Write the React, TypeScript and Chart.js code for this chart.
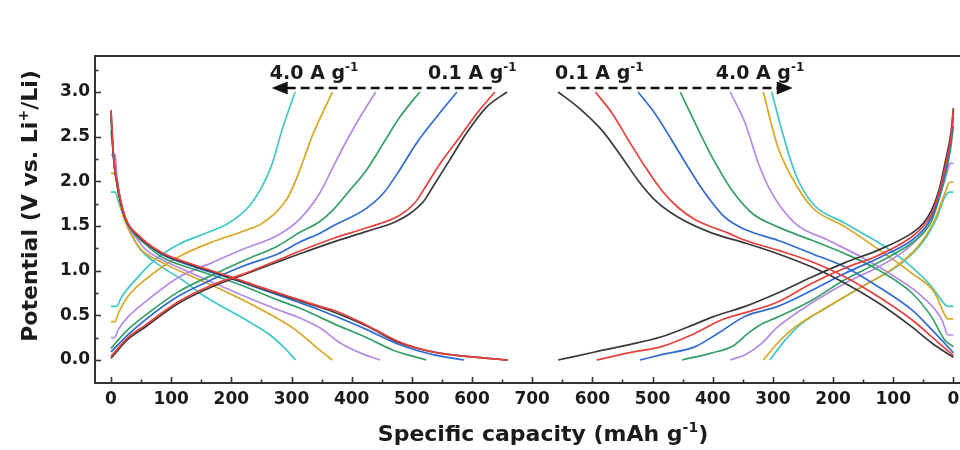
import React, { useEffect, useRef } from 'react';
import { Chart, registerables } from 'chart.js';

Chart.register(...registerables);

// ---------- tick values / labels ----------
const X_TICKS = [0, 100, 200, 300, 400, 500, 600, 700, 800, 900, 1000, 1100, 1200, 1300, 1400];
const X_TICK_LABELS = ['0', '100', '200', '300', '400', '500', '600', '700', '600', '500', '400', '300', '200', '100', '0'];
const Y_TICKS = [0, 0.5, 1.0, 1.5, 2.0, 2.5, 3.0];
const MIRROR = 1400; // right panel capacity axis runs back from 700 to 0

// ---------- left panel: discharge curves [capacity mAh/g, potential V] ----------
const L_DIS_BLACK = [[0,2.78],[2,2.52],[4,2.28],[7,2.08],[10,1.97],[14,1.83],[20,1.66],[28,1.52],[45,1.39],[60,1.30],[85,1.19],[140,1.05],[195,0.93],[251,0.80],[306,0.68],[347,0.59],[369,0.54],[425,0.38],[480,0.19],[535,0.09],[591,0.04],[660,0.0]];
const L_DIS_RED = [[0,2.80],[2,2.55],[4,2.30],[7,2.10],[10,1.99],[14,1.85],[20,1.68],[28,1.53],[45,1.40],[60,1.31],[85,1.20],[140,1.06],[195,0.94],[251,0.81],[306,0.69],[347,0.60],[369,0.56],[425,0.39],[480,0.20],[535,0.09],[591,0.04],[658,0.0]];
const L_DIS_BLUE = [[0,2.71],[3,2.40],[6,2.15],[10,2.0],[18,1.72],[28,1.53],[45,1.39],[60,1.30],[85,1.18],[140,1.04],[195,0.92],[251,0.79],[306,0.66],[347,0.56],[369,0.50],[425,0.34],[480,0.17],[535,0.06],[587,0.0]];
const L_DIS_GREEN = [[0,2.57],[4,2.30],[10,1.98],[18,1.70],[28,1.52],[45,1.37],[60,1.28],[85,1.15],[140,1.01],[195,0.89],[223,0.82],[278,0.67],[314,0.58],[347,0.48],[369,0.41],[425,0.25],[469,0.11],[524,0.0]];
const L_DIS_PURPLE = [[0,2.30],[7,2.30],[10,2.05],[18,1.72],[28,1.51],[45,1.34],[57,1.24],[85,1.12],[111,1.04],[168,0.87],[223,0.71],[278,0.56],[314,0.47],[347,0.36],[381,0.19],[414,0.08],[447,0.0]];
const L_DIS_YELLOW = [[0,2.09],[7,2.09],[11,1.90],[18,1.66],[28,1.48],[40,1.33],[51,1.23],[85,1.09],[140,0.92],[195,0.75],[251,0.56],[306,0.34],[347,0.11],[368,0.0]];
const L_DIS_CYAN = [[0,1.88],[7,1.88],[12,1.78],[20,1.63],[27,1.52],[45,1.27],[85,1.04],[118,0.90],[156,0.71],[195,0.56],[234,0.41],[268,0.26],[289,0.13],[307,0.0]];

// ---------- left panel: charge curves ----------
const L_CHG_BLACK = [[0,0.02],[28,0.23],[57,0.37],[111,0.63],[168,0.82],[223,0.96],[278,1.10],[314,1.19],[369,1.32],[425,1.44],[470,1.54],[497,1.64],[520,1.78],[535,1.94],[563,2.24],[591,2.54],[624,2.83],[658,3.0]];
const L_CHG_RED = [[0,0.04],[28,0.25],[57,0.39],[111,0.65],[168,0.84],[223,0.97],[278,1.12],[314,1.22],[369,1.36],[425,1.48],[480,1.62],[505,1.76],[519,1.90],[547,2.20],[580,2.50],[608,2.76],[638,3.0]];
const L_CHG_BLUE = [[0,0.09],[28,0.28],[57,0.45],[111,0.71],[168,0.90],[223,1.06],[278,1.19],[314,1.32],[347,1.42],[369,1.50],[425,1.70],[453,1.87],[480,2.13],[508,2.43],[541,2.72],[575,3.0]];
const L_CHG_GREEN = [[0,0.13],[10,0.21],[28,0.34],[57,0.50],[111,0.76],[168,0.95],[223,1.12],[278,1.28],[314,1.43],[347,1.55],[369,1.68],[397,1.90],[425,2.13],[453,2.43],[480,2.72],[513,3.0]];
const L_CHG_PURPLE = [[0,0.25],[6,0.25],[12,0.34],[28,0.48],[57,0.65],[111,0.92],[168,1.09],[223,1.25],[278,1.40],[314,1.58],[347,1.87],[369,2.16],[392,2.46],[414,2.72],[440,3.0]];
const L_CHG_YELLOW = [[0,0.43],[7,0.43],[12,0.52],[28,0.71],[57,0.90],[111,1.15],[168,1.32],[223,1.45],[251,1.53],[294,1.82],[314,2.13],[334,2.50],[347,2.70],[368,3.0]];
const L_CHG_CYAN = [[0,0.60],[9,0.60],[18,0.71],[45,0.93],[73,1.12],[111,1.29],[150,1.40],[195,1.53],[228,1.71],[251,1.94],[268,2.20],[284,2.57],[306,3.0]];

// ---------- right panel: discharge curves (capacity counted from right edge) ----------
const R_DIS_BLACK = [[0,2.82],[4,2.55],[14,2.20],[24,1.90],[36,1.68],[50,1.53],[69,1.42],[125,1.23],[180,1.09],[235,0.93],[292,0.75],[346,0.60],[401,0.48],[441,0.37],[485,0.26],[540,0.17],[596,0.09],[657,0.0]];
const R_DIS_RED = [[0,2.80],[4,2.50],[14,2.15],[24,1.86],[36,1.64],[50,1.50],[69,1.38],[125,1.17],[180,1.03],[235,0.86],[292,0.65],[346,0.53],[385,0.45],[429,0.30],[485,0.15],[540,0.08],[593,0.0]];
const R_DIS_BLUE = [[0,2.72],[4,2.45],[14,2.10],[24,1.83],[36,1.60],[50,1.46],[69,1.34],[125,1.14],[180,0.97],[235,0.78],[292,0.60],[346,0.49],[391,0.30],[429,0.15],[485,0.06],[521,0.0]];
const R_DIS_GREEN = [[0,2.62],[4,2.40],[14,2.05],[24,1.80],[36,1.56],[50,1.42],[69,1.31],[125,1.09],[180,0.90],[235,0.67],[292,0.48],[322,0.39],[341,0.30],[368,0.15],[401,0.08],[451,0.0]];
const R_DIS_PURPLE = [[0,2.20],[6,2.20],[9,2.13],[25,1.79],[52,1.42],[80,1.23],[125,1.04],[180,0.86],[235,0.64],[292,0.37],[318,0.19],[346,0.06],[371,0.0]];
const R_DIS_YELLOW = [[0,1.99],[6,1.99],[14,1.87],[31,1.57],[59,1.27],[97,1.04],[152,0.82],[208,0.60],[263,0.37],[292,0.19],[316,0.0]];
const R_DIS_CYAN = [[0,1.88],[6,1.88],[14,1.83],[27,1.60],[52,1.31],[91,1.06],[147,0.84],[202,0.62],[252,0.41],[280,0.22],[305,0.0]];

// ---------- right panel: charge curves ----------
const R_CHG_BLACK = [[0,0.03],[36,0.19],[69,0.37],[125,0.64],[180,0.86],[235,1.04],[292,1.19],[346,1.31],[401,1.42],[458,1.60],[496,1.79],[524,2.01],[551,2.27],[584,2.57],[624,2.83],[657,3.0]];
const R_CHG_RED = [[0,0.05],[36,0.26],[69,0.45],[125,0.71],[180,0.93],[235,1.10],[292,1.23],[346,1.34],[374,1.42],[429,1.57],[458,1.71],[485,1.90],[512,2.16],[540,2.46],[567,2.76],[595,3.0]];
const R_CHG_BLUE = [[0,0.08],[36,0.34],[69,0.56],[125,0.82],[180,1.04],[235,1.19],[292,1.34],[346,1.46],[380,1.60],[413,1.87],[441,2.16],[468,2.46],[496,2.76],[524,3.0]];
const R_CHG_GREEN = [[0,0.15],[14,0.22],[36,0.48],[69,0.75],[125,1.01],[180,1.19],[235,1.34],[292,1.49],[334,1.64],[368,1.90],[401,2.27],[429,2.65],[454,3.0]];
const R_CHG_PURPLE = [[0,0.28],[9,0.28],[19,0.45],[52,0.71],[97,0.93],[152,1.15],[208,1.34],[263,1.53],[302,1.87],[324,2.20],[346,2.65],[371,3.0]];
const R_CHG_YELLOW = [[0,0.46],[9,0.46],[14,0.50],[31,0.75],[69,0.97],[114,1.19],[180,1.49],[235,1.71],[269,2.05],[292,2.39],[316,3.0]];
const R_CHG_CYAN = [[0,0.60],[9,0.60],[14,0.62],[36,0.82],[69,1.04],[114,1.27],[180,1.53],[235,1.76],[263,2.09],[285,2.57],[302,3.0]];

// ---------- colours ----------
const C_BLACK = '#3a3a3a';
const C_RED = '#e8413c';
const C_BLUE = '#2f6bd1';
const C_GREEN = '#34a065';
const C_PURPLE = '#b58ae6';
const C_YELLOW = '#d8a623';
const C_CYAN = '#3ec7c9';

// dataset index 0 is drawn last (on top)
const SERIES = [
  { color: C_RED, left: [L_DIS_RED, L_CHG_RED], right: [R_DIS_RED, R_CHG_RED] },
  { color: C_BLACK, left: [L_DIS_BLACK, L_CHG_BLACK], right: [R_DIS_BLACK, R_CHG_BLACK] },
  { color: C_BLUE, left: [L_DIS_BLUE, L_CHG_BLUE], right: [R_DIS_BLUE, R_CHG_BLUE] },
  { color: C_GREEN, left: [L_DIS_GREEN, L_CHG_GREEN], right: [R_DIS_GREEN, R_CHG_GREEN] },
  { color: C_PURPLE, left: [L_DIS_PURPLE, L_CHG_PURPLE], right: [R_DIS_PURPLE, R_CHG_PURPLE] },
  { color: C_YELLOW, left: [L_DIS_YELLOW, L_CHG_YELLOW], right: [R_DIS_YELLOW, R_CHG_YELLOW] },
  { color: C_CYAN, left: [L_DIS_CYAN, L_CHG_CYAN], right: [R_DIS_CYAN, R_CHG_CYAN] },
];

// annotation labels (data coordinates of text start)
const ANNOTATIONS = [
  { text: '4.0 A g', q: 264 },
  { text: '0.1 A g', q: 527 },
  { text: '0.1 A g', q: 738 },
  { text: '4.0 A g', q: 1005 },
];

const FONT = '"DejaVu Sans", "Liberation Sans", sans-serif';
const TEXT_COLOR = '#1b1b1b';

type Part = { t: string; sup?: boolean };

function drawRich(ctx: CanvasRenderingContext2D, parts: Part[], x: number, y: number, size: number, align: 'left' | 'center') {
  const supSize = Math.round(size * 0.64);
  let w = 0;
  for (const p of parts) {
    ctx.font = `bold ${p.sup ? supSize : size}px ${FONT}`;
    w += ctx.measureText(p.t).width;
  }
  let cx = align === 'center' ? x - w / 2 : x;
  ctx.textAlign = 'left';
  ctx.textBaseline = 'alphabetic';
  for (const p of parts) {
    ctx.font = `bold ${p.sup ? supSize : size}px ${FONT}`;
    ctx.fillText(p.t, cx, p.sup ? y - size * 0.42 : y);
    cx += ctx.measureText(p.t).width;
  }
}

const decorPlugin = {
  id: 'decor',
  afterDraw(chart: any) {
    const { ctx, chartArea } = chart;
    const { left, top, right, bottom } = chartArea;
    const xs = chart.scales.x;
    const ys = chart.scales.y;
    ctx.save();
    // frame
    ctx.strokeStyle = '#333';
    ctx.lineWidth = 2;
    ctx.setLineDash([]);
    ctx.strokeRect(left, top, right - left, bottom - top);
    // x tick marks (inward)
    ctx.lineWidth = 1.6;
    for (let v = 0; v <= 1400; v += 50) {
      const px = Math.round(xs.getPixelForValue(v)) + 0.5;
      const len = v % 100 === 0 ? 6 : 3.5;
      ctx.beginPath();
      ctx.moveTo(px, bottom);
      ctx.lineTo(px, bottom - len);
      ctx.stroke();
    }
    // y tick marks (inward)
    for (let i = 0; i <= 13; i++) {
      const v = i * 0.25;
      const py = Math.round(ys.getPixelForValue(v)) + 0.5;
      const len = i % 2 === 0 ? 6 : 3.5;
      ctx.beginPath();
      ctx.moveTo(left, py);
      ctx.lineTo(left + len, py);
      ctx.stroke();
    }
    ctx.fillStyle = TEXT_COLOR;
    // x title
    drawRich(ctx, [{ t: 'Specific capacity (mAh g' }, { t: '-1', sup: true }, { t: ')' }], 543, 441, 22, 'center');
    // y title
    ctx.save();
    ctx.translate(37, 206);
    ctx.rotate(-Math.PI / 2);
    drawRich(ctx, [{ t: 'Potential (V vs. Li' }, { t: '+', sup: true }, { t: '/Li)' }], 0, 0, 22, 'center');
    ctx.restore();
    // rate annotations
    const textY = ys.getPixelForValue(3.146);
    for (const a of ANNOTATIONS) {
      drawRich(ctx, [{ t: a.text }, { t: '-1', sup: true }], xs.getPixelForValue(a.q), textY, 19, 'left');
    }
    // dashed arrows
    const ay = ys.getPixelForValue(3.045);
    ctx.strokeStyle = '#111';
    ctx.fillStyle = '#111';
    ctx.lineWidth = 2.4;
    ctx.setLineDash([9, 5]);
    const lTip = xs.getPixelForValue(267);
    const lEnd = xs.getPixelForValue(641);
    ctx.beginPath();
    ctx.moveTo(lTip + 15, ay);
    ctx.lineTo(lEnd, ay);
    ctx.stroke();
    const rStart = xs.getPixelForValue(757);
    const rTip = xs.getPixelForValue(1133);
    ctx.beginPath();
    ctx.moveTo(rStart, ay);
    ctx.lineTo(rTip - 15, ay);
    ctx.stroke();
    ctx.setLineDash([]);
    ctx.beginPath();
    ctx.moveTo(lTip, ay);
    ctx.lineTo(lTip + 16, ay - 6.5);
    ctx.lineTo(lTip + 16, ay + 6.5);
    ctx.closePath();
    ctx.fill();
    ctx.beginPath();
    ctx.moveTo(rTip, ay);
    ctx.lineTo(rTip - 16, ay - 6.5);
    ctx.lineTo(rTip - 16, ay + 6.5);
    ctx.closePath();
    ctx.fill();
    ctx.restore();
  },
};

function buildDatasets() {
  const ds: any[] = [];
  for (const s of SERIES) {
    for (const arr of s.left) {
      ds.push({
        data: arr.map(([q, v]) => ({ x: q, y: v })),
        borderColor: s.color,
        backgroundColor: s.color,
        borderWidth: 1.7,
        pointRadius: 0,
        fill: false,
        cubicInterpolationMode: 'monotone',
      });
    }
    for (const arr of s.right) {
      ds.push({
        data: arr.map(([q, v]) => ({ x: MIRROR - q, y: v })),
        borderColor: s.color,
        backgroundColor: s.color,
        borderWidth: 1.7,
        pointRadius: 0,
        fill: false,
        cubicInterpolationMode: 'monotone',
      });
    }
  }
  return ds;
}

const tickFont = { family: FONT, size: 17, weight: 'bold' as const };

export default function App() {
  const ref = useRef<HTMLCanvasElement | null>(null);
  useEffect(() => {
    if (!ref.current) return;
    const chart = new Chart(ref.current, {
      type: 'line',
      data: { datasets: buildDatasets() },
      options: {
        responsive: false,
        devicePixelRatio: 1,
        animation: false,
        layout: { padding: { left: 0, top: 56, right: 25, bottom: 0 } },
        plugins: { legend: { display: false }, tooltip: { enabled: false } },
        scales: {
          x: {
            type: 'linear',
            min: -26.6,
            max: 1435.9,
            grid: { display: false, drawTicks: false },
            border: { display: false },
            ticks: {
              font: tickFont,
              color: TEXT_COLOR,
              padding: 6,
              autoSkip: false,
              maxRotation: 0,
              minRotation: 0,
              includeBounds: false,
              callback: (_v: any, i: number) => X_TICK_LABELS[i],
            },
            afterBuildTicks: (s: any) => {
              s.ticks = X_TICKS.map((v) => ({ value: v }));
            },
            afterFit: (s: any) => {
              s.height = 67;
            },
          },
          y: {
            type: 'linear',
            min: -0.2575,
            max: 3.403,
            grid: { display: false, drawTicks: false },
            border: { display: false },
            ticks: {
              font: tickFont,
              color: TEXT_COLOR,
              padding: 5,
              includeBounds: false,
              callback: (v: any) => Number(v).toFixed(1),
            },
            afterBuildTicks: (s: any) => {
              s.ticks = Y_TICKS.map((v) => ({ value: v }));
            },
            afterFit: (s: any) => {
              s.width = 95;
            },
          },
        },
      } as any,
      plugins: [decorPlugin],
    });
    return () => chart.destroy();
  }, []);
  return (
    <div style={{ position: 'fixed', left: 0, top: 0, width: 960, height: 450, overflow: 'hidden', background: '#fff' }}>
      <canvas ref={ref} width={1000} height={450} style={{ display: 'block', width: 1000, height: 450 }} />
    </div>
  );
}
